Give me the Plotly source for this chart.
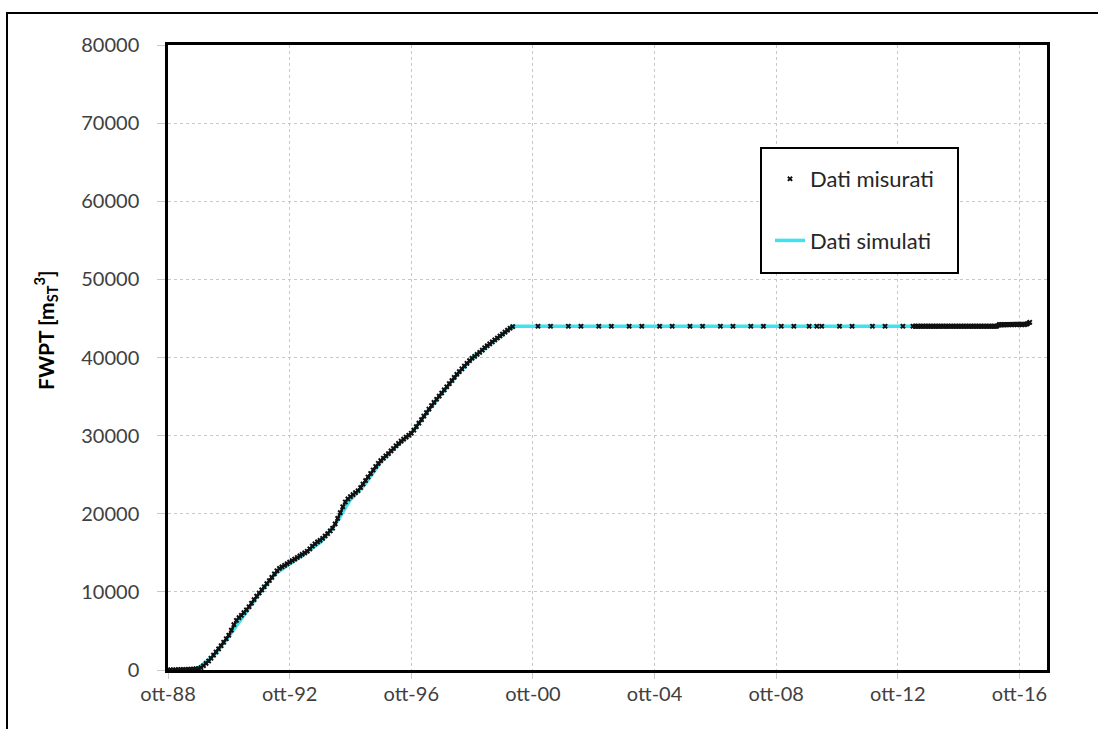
import pandas as pd
import plotly.graph_objects as go

# ---------------- data ----------------
# measured, monthly from Oct 1988 to Feb 2000
meas_early_start = "1988-10-01"
meas_early_vals = [
    0, 10, 20, 30, 40, 50, 60, 70, 80, 100, 120, 150,
    180, 300, 550, 850, 1150, 1500, 1900, 2300, 2700, 3100, 3550, 4000,
    4450, 5100, 5800, 6350, 6700, 7000, 7350, 7700, 8100, 8550, 9000, 9450,
    9850, 10250, 10650, 11050, 11450, 11850, 12300, 12700, 13000, 13200, 13400, 13600,
    13800, 14000, 14200, 14400, 14600, 14800, 15000, 15200, 15500, 15850, 16150, 16400,
    16600, 16850, 17150, 17450, 17800, 18150, 18700, 19400, 20150, 20900, 21500, 21900,
    22200, 22450, 22700, 22950, 23350, 23800, 24250, 24700, 25150, 25600, 26050, 26450,
    26800, 27100, 27400, 27700, 28050, 28350, 28700, 29000, 29300, 29550, 29800, 30050,
    30300, 30700, 31150, 31600, 32050, 32500, 32950, 33400, 33850, 34250, 34650, 35050,
    35450, 35850, 36250, 36650, 37050, 37450, 37850, 38200, 38550, 38900, 39250, 39600,
    39900, 40150, 40400, 40650, 40950, 41250, 41500, 41750, 42000, 42250, 42500, 42750,
    43000, 43250, 43500, 43750, 43950,
]
# measured, sparse (plateau)
meas_sparse_dates = [
    "2000-12-01", "2001-05-01", "2001-12-01", "2002-05-01", "2002-12-01", "2003-05-01",
    "2003-12-01", "2004-05-01", "2004-12-01", "2005-05-01", "2005-12-01", "2006-05-01",
    "2006-12-01", "2007-05-01", "2007-12-01", "2008-05-01", "2008-12-01", "2009-05-01",
    "2009-11-01", "2010-02-01", "2010-04-01", "2010-11-01", "2011-04-01", "2011-12-01",
    "2012-05-01", "2012-12-01",
]
meas_sparse_vals = [44000] * 26
# measured, monthly from Apr 2013 to Feb 2017
meas_late_start = "2013-04-01"
meas_late_vals = [
    44000, 44000, 44000, 44000, 44000, 44000, 44000, 44000, 44000,
    44000, 44000, 44000, 44000, 44000, 44000, 44000, 44000, 44000, 44000, 44000, 44000,
    44000, 44000, 44000, 44000, 44000, 44000, 44000, 44000, 44000, 44000, 44000, 44000,
    44000, 44200, 44200, 44200, 44200, 44200, 44200, 44200, 44200, 44200, 44200, 44200,
    44300, 44500,
]

# simulated
sim_dates = [
    "1988-10-01", "1989-04-01", "1989-10-01", "1990-04-01", "1990-10-01", "1991-04-01",
    "1991-10-01", "1992-04-01", "1992-10-01", "1993-04-01", "1993-10-01", "1994-04-01",
    "1994-10-01", "1995-04-01", "1995-10-01", "1996-04-01", "1996-10-01", "1997-04-01",
    "1997-10-01", "1998-04-01", "1998-10-01", "1999-04-01", "1999-10-01", "2000-02-01",
    "2016-02-01", "2016-12-01", "2017-02-01",
]
sim_vals = [
    0, 50, 250, 1800, 4300, 7100,
    9750, 12200, 13600, 14900, 16300, 18600,
    21800, 23900, 26650, 28650, 30300, 32900,
    35400, 37800, 39900, 41450, 43000, 44000,
    44000, 44200, 44650,
]

x_tick_vals = ["1988-10-01", "1992-10-01", "1996-10-01", "2000-10-01",
               "2004-10-01", "2008-10-01", "2012-10-01", "2016-10-01"]
x_tick_text = ["ott-88", "ott-92", "ott-96", "ott-00", "ott-04", "ott-08", "ott-12", "ott-16"]
y_tick_vals = [0, 10000, 20000, 30000, 40000, 50000, 60000, 70000, 80000]
y_tick_text = ["0", "10000", "20000", "30000", "40000", "50000", "60000", "70000", "80000"]

# ---------------- build ----------------
early_dates = list(pd.date_range(meas_early_start, periods=len(meas_early_vals), freq="MS"))
late_dates = list(pd.date_range(meas_late_start, periods=len(meas_late_vals), freq="MS"))
sparse_dates = list(pd.to_datetime(meas_sparse_dates))
meas_x = early_dates + sparse_dates + late_dates
meas_y = meas_early_vals + meas_sparse_vals + meas_late_vals

W, H = 1098, 729
L, R, T, B = 168, 51, 45, 59
PW, PH = W - L - R, H - T - B


def px(x):
    return (x - L) / PW


def py(y):
    return (H - B - y) / PH


FONT = "Lato, 'Open Sans', sans-serif"

fig = go.Figure()
fig.add_trace(go.Scatter(
    x=pd.to_datetime(sim_dates), y=sim_vals, mode="lines", name="Dati simulati",
    line=dict(color="#3FE3F0", width=3.5), legendgroup="b", legendrank=2,
))
# dense measured series drawn as continuous dark strokes (the markers overlap)
fig.add_trace(go.Scatter(
    x=early_dates, y=meas_early_vals, mode="lines", showlegend=False,
    line=dict(color="#111111", width=2.5), hoverinfo="skip",
))
fig.add_trace(go.Scatter(
    x=late_dates, y=meas_late_vals, mode="lines", showlegend=False,
    line=dict(color="#111111", width=5), hoverinfo="skip",
))
fig.add_trace(go.Scatter(
    x=meas_x, y=meas_y, mode="markers", name="Dati misurati",
    marker=dict(symbol="x", size=5, color="#111111", line=dict(width=0)),
    legendgroup="a", legendrank=1,
))

fig.update_layout(
    width=W, height=H,
    margin=dict(l=L, r=R, t=T, b=B),
    paper_bgcolor="white", plot_bgcolor="white",
    font=dict(family=FONT, color="#404040", size=20),
    showlegend=True,
    legend=dict(
        x=px(770), y=py(158), xanchor="left", yanchor="top",
        bgcolor="rgba(0,0,0,0)", borderwidth=0,
        font=dict(family=FONT, size=22, color="#262626"),
        tracegroupgap=30, itemwidth=30,
    ),
    shapes=[
        # outer frame
        dict(type="rect", xref="paper", yref="paper",
             x0=px(7), x1=px(1105), y0=py(740), y1=py(13),
             line=dict(color="black", width=2), fillcolor="rgba(0,0,0,0)", layer="above"),
        # legend box
        dict(type="rect", xref="paper", yref="paper",
             x0=px(761), x1=px(958), y0=py(273), y1=py(148),
             line=dict(color="black", width=2), fillcolor="white", layer="above"),
    ],
    annotations=[
        dict(text="<b>FWPT [m<sub>ST</sub><sup>3</sup>]</b>", textangle=-90,
             xref="paper", yref="paper", x=px(45), y=py(330),
             xanchor="center", yanchor="middle", showarrow=False,
             font=dict(family=FONT, size=21, color="black")),
    ],
)

fig.update_xaxes(
    type="date", range=["1988-10-01", "2017-08-28"],
    tickvals=x_tick_vals, ticktext=x_tick_text,
    showgrid=True, gridcolor="#c8c8c8", griddash="dot", gridwidth=1,
    ticks="outside", ticklen=6, tickcolor="#c8c8c8",
    showline=True, linecolor="black", linewidth=2.5, mirror=True,
    zeroline=False, ticklabelstandoff=-2,
)
fig.update_yaxes(
    range=[0, 80000], tickvals=y_tick_vals, ticktext=y_tick_text,
    showgrid=True, gridcolor="#c8c8c8", griddash="dot", gridwidth=1,
    ticks="outside", ticklen=8, tickcolor="#c8c8c8",
    showline=True, linecolor="black", linewidth=2.5, mirror=True,
    zeroline=False, ticklabelstandoff=14,
)

fig.write_html("out.html", config={"displayModeBar": False},
               post_script="document.body.style.margin='0';")
